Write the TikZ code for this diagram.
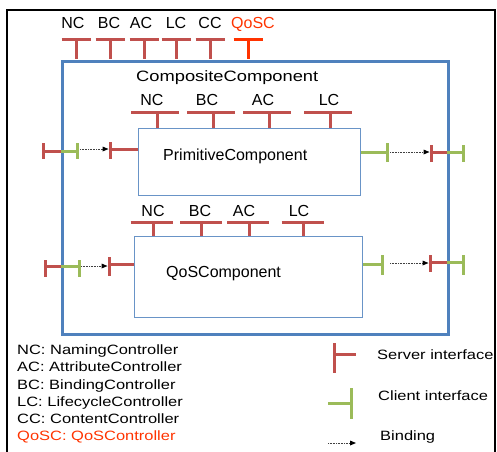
\documentclass[tikz,border=0pt]{standalone}
\usepackage{fontspec}
\setmainfont{Liberation Sans}
\newfontfamily\widefont[FakeStretch=1.22]{Liberation Sans}
\usetikzlibrary{arrows.meta}
\definecolor{srvred}{HTML}{C0504D}
\definecolor{cligreen}{HTML}{9BBB59}
\definecolor{boxblue}{HTML}{4F81BD}
\definecolor{qosred}{HTML}{FF3300}
\tikzset{
  lbl/.style={inner sep=0pt, text height=11.5pt, text depth=0pt, font=\fontsize{16}{16}\selectfont},
  leg/.style={inner sep=0pt, anchor=west, text height=9.7pt, text depth=0pt, font=\widefont\fontsize{13.5}{13.5}\selectfont},
  srv/.style={draw=srvred, line width=3pt},
  qsrv/.style={draw=qosred, line width=3pt},
  cli/.style={draw=cligreen, line width=3pt},
  bind/.style={draw=black!75, line width=0.6pt, densely dotted, -{Triangle[length=6pt,width=5pt,fill=black,line width=0pt]}},
  bigbox/.style={draw=boxblue, line width=2.5pt, inner sep=0pt, anchor=north west},
  smallbox/.style={draw=boxblue!85, line width=0.8pt, inner sep=0pt, anchor=north west},
}
\begin{document}
\begin{tikzpicture}[x=1pt,y=-1pt]
\useasboundingbox (0,0) rectangle (497,451);
% outer frame
\draw[line width=2.2pt] (7,452) -- (7,10) -- (495,10) -- (495,452);

% boxes
\node[bigbox, minimum width=386pt, minimum height=273pt] (comp) at (61,60) {};
\node[smallbox, minimum width=222pt, minimum height=67pt] (prim) at (138,128) {};
\node[smallbox, minimum width=228pt, minimum height=81pt] (qos) at (134,236) {};

\node[leg, font=\widefont\fontsize{15}{15}\selectfont, text height=10.7pt] (compl) at (136,76) {CompositeComponent};
\node[lbl, anchor=west] (priml) at (163,155) {PrimitiveComponent};
\node[lbl, anchor=west] (qosl) at (166,272) {QoSComponent};

% composite controllers
\foreach \x/\s/\t in {76/76/NC, 110/110/BC, 144/144/AC, 176/176/LC, 210/210/CC}{
  \draw[srv] (\x-14.5,39) -- (\x+14.5,39);
  \draw[srv] (\s,39) -- (\s,59);
}
\draw[qsrv] (233.5,39) -- (262.5,39);
\draw[qsrv] (248,39) -- (248,59);
\node[lbl] (tnc) at (73,23) {NC};
\node[lbl] (tbc) at (109,23) {BC};
\node[lbl] (tac) at (141,23) {AC};
\node[lbl] (tlc) at (176,23) {LC};
\node[lbl] (tcc) at (210,23) {CC};
\node[lbl, text=qosred] (tqos) at (253,23) {QoSC};

% primitive controllers
\foreach \x/\s in {155/157, 211/213, 267/269, 328/330}{
  \draw[srv] (\x-24,112) -- (\x+24,112);
  \draw[srv] (\s,112) -- (\s,128);
}
\node[lbl] (pnc) at (152,99.5) {NC};
\node[lbl] (pbc) at (207,99.5) {BC};
\node[lbl] (pac) at (263,99.5) {AC};
\node[lbl] (plc) at (329,99.5) {LC};

% qos controllers
\foreach \x/\s in {151.5/153, 201/201, 248/249, 302.5/303}{
  \draw[srv] (\x-21,222) -- (\x+21,222);
  \draw[srv] (\s,222) -- (\s,236);
}
\node[lbl] (qnc) at (153,211) {NC};
\node[lbl] (qbc) at (200,211) {BC};
\node[lbl] (qac) at (244,211) {AC};
\node[lbl] (qlc) at (299,211) {LC};

% primitive left interfaces
\draw[srv] (43,143) -- (43,159);
\draw[srv] (43,151) -- (61,151);
\draw[cli] (61,151) -- (77,151);
\draw[cli] (77,143) -- (77,159);
\draw[srv] (110,142) -- (110,159);
\draw[srv] (110,149) -- (prim.west |- 0,149);
\coordinate (pla) at (80,149);
\coordinate (plb) at (108.5,149);
\draw[bind] (pla) -- (plb);

% primitive right interfaces
\draw[cli] (prim.east |- 0,152) -- (387,152);
\draw[cli] (387,143) -- (387,162);
\draw[srv] (431,145) -- (431,162);
\draw[srv] (431,152) -- (447,152);
\draw[cli] (447,152) -- (463,152);
\draw[cli] (463,145) -- (463,162);
\coordinate (pra) at (390,152);
\coordinate (prb) at (429.5,152);
\draw[bind] (pra) -- (prb);

% qos left interfaces
\draw[srv] (45,260) -- (45,277);
\draw[srv] (45,266) -- (61,266);
\draw[cli] (61,266) -- (79,266);
\draw[cli] (79,260) -- (79,277);
\draw[srv] (109,257) -- (109,276);
\draw[srv] (109,264) -- (qos.west |- 0,264);
\coordinate (qla) at (81,266);
\coordinate (qlb) at (107.5,266);
\draw[bind] (qla) -- (qlb);

% qos right interfaces
\draw[cli] (qos.east |- 0,264) -- (382,264);
\draw[cli] (382,255) -- (382,275);
\draw[srv] (430,255) -- (430,272);
\draw[srv] (430,262) -- (447,262);
\draw[cli] (447,262) -- (463,262);
\draw[cli] (463,255) -- (463,275);
\coordinate (qra) at (390,263);
\coordinate (qrb) at (428.5,263);
\draw[bind] (qra) -- (qrb);

% legend left
\node[leg] (l1) at (17,349.7) {NC: NamingController};
\node[leg] (l2) at (17,367) {AC: AttributeController};
\node[leg] (l3) at (17,384.7) {BC: BindingController};
\node[leg] (l4) at (17,401.3) {LC: LifecycleController};
\node[leg] (l5) at (17,419) {CC: ContentController};
\node[leg, text=qosred] (l6) at (17,436) {QoSC: QoSController};

% legend right
\draw[srv] (334,343) -- (334,373);
\draw[srv] (334,354) -- (356,354);
\node[leg] (ls) at (377,354.5) {Server interface};
\draw[cli] (328,403) -- (351,403);
\draw[cli] (351,388) -- (351,419);
\node[leg] (lc) at (378,396) {Client interface};
\coordinate (lba) at (328,443);
\coordinate (lbb) at (356,443);
\draw[bind] (lba) -- (lbb);
\node[leg] (lb) at (380,436) {Binding};
\end{tikzpicture}
\end{document}
